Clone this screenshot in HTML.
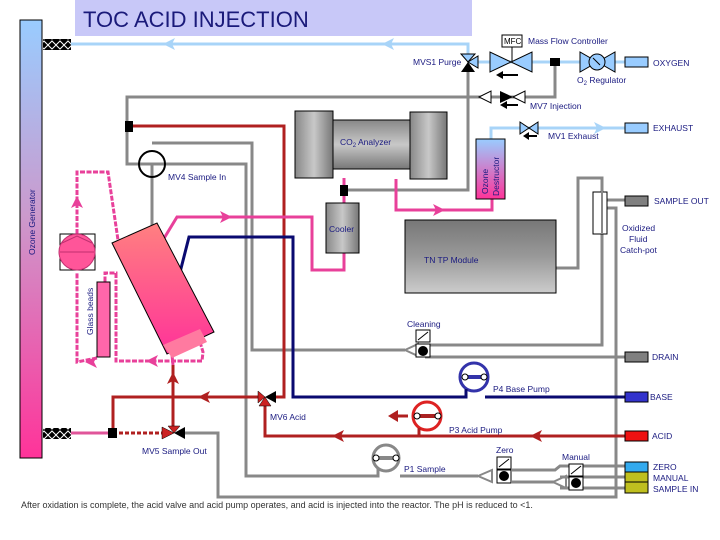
<!DOCTYPE html>
<html><head><meta charset="utf-8"><style>
html,body{margin:0;padding:0;background:#fff;}
svg{display:block;}
text{font-family:"Liberation Sans",sans-serif;}
.t{font-size:8.5px;fill:#1a1a80;}
</style></head><body>
<svg width="720" height="540" viewBox="0 0 720 540" xmlns="http://www.w3.org/2000/svg">
<defs>
<linearGradient id="oz" x1="0" y1="0" x2="0" y2="1"><stop offset="0" stop-color="#99ccff"/><stop offset="0.45" stop-color="#cc99cc"/><stop offset="1" stop-color="#ff3399"/></linearGradient>
<linearGradient id="od" x1="0" y1="0" x2="0" y2="1"><stop offset="0" stop-color="#99ccff"/><stop offset="1" stop-color="#ff3399"/></linearGradient>
<linearGradient id="gv" x1="0" y1="0" x2="0" y2="1"><stop offset="0" stop-color="#888"/><stop offset="0.5" stop-color="#c8c8c8"/><stop offset="1" stop-color="#777"/></linearGradient>
<linearGradient id="gh" x1="0" y1="0" x2="1" y2="0"><stop offset="0" stop-color="#888"/><stop offset="0.5" stop-color="#c8c8c8"/><stop offset="1" stop-color="#777"/></linearGradient>
<linearGradient id="tn" x1="0" y1="0" x2="0" y2="1"><stop offset="0" stop-color="#777"/><stop offset="0.5" stop-color="#999"/><stop offset="1" stop-color="#ccc"/></linearGradient>
<linearGradient id="re" x1="0" y1="0" x2="0" y2="1"><stop offset="0" stop-color="#ff8080"/><stop offset="1" stop-color="#ff3399"/></linearGradient>
<pattern id="hx" width="8" height="10" patternUnits="userSpaceOnUse"><rect width="8" height="10" fill="#000"/><path d="M0 5L4 1L8 5L4 9Z" fill="none" stroke="#fff" stroke-width="1"/></pattern>
</defs>

<!-- title -->
<rect x="75" y="0" width="397" height="36" fill="#c8c8f8"/>
<text x="83" y="27" font-size="22" fill="#1a1a7a">TOC ACID INJECTION</text>

<!-- ozone generator -->
<rect x="20" y="20" width="22" height="438" fill="url(#oz)" stroke="#000"/>
<text transform="translate(35,255) rotate(-90)" class="t" font-size="8">Ozone Generator</text>
<rect x="43" y="39" width="28" height="11" fill="url(#hx)"/>
<rect x="43" y="428" width="28" height="11" fill="url(#hx)"/>

<!-- light blue lines -->
<g stroke="#a8d4f8" stroke-width="3" fill="none">
<polyline points="71,44 468,44 468,55"/>
<line x1="475" y1="62" x2="625" y2="62"/>
<polyline points="491,140 491,128 625,128"/>
</g>
<path d="M163,44 L175,38 L172,44 L175,50Z" fill="#a8d4f8"/>
<path d="M382,44 L394,38 L391,44 L394,50Z" fill="#a8d4f8"/>
<path d="M606,128 L594,122 L597,128 L594,134Z" fill="#a8d4f8"/>

<!-- gray lines -->
<g stroke="#888" stroke-width="3" fill="none">
<polyline points="555,62 555,97 127,97 127,164 152,164"/>
<polyline points="468,70 468,190 347,190"/>
<polyline points="152,143 252,143 252,350 405,350"/>
<polyline points="152,164 246,164 246,476 372,476"/>
<line x1="152" y1="164" x2="152" y2="230"/>
<polyline points="556,268 578,268 578,178 602,178 602,234"/>
<polyline points="602,234 602,345 425,345"/>
<line x1="606" y1="200" x2="625" y2="200"/>
<polyline points="606,208 616,208 616,497 218,497 218,433 182,433"/>
<polyline points="425,357 625,357"/>
<polyline points="400,476 478,476"/>
<polyline points="512,470 555,470 560,466 625,466"/>
<polyline points="512,482 555,482"/>
<polyline points="560,477 625,477"/>
<polyline points="560,488 625,488"/>
</g>
<path d="M405,350 L418,344 L418,356Z" fill="none" stroke="#888" stroke-width="2"/>
<path d="M478,476 L492,470 L492,482Z" fill="none" stroke="#888" stroke-width="2"/>
<path d="M553,482 L566,476 L566,488Z" fill="none" stroke="#888" stroke-width="2"/>

<!-- dark red line -->
<g stroke="#b02020" stroke-width="3" fill="none">
<polyline points="130,126 284,126 284,397 272,397"/>
<polyline points="258,397 113,397 113,433"/>
<polyline points="625,436 265,436 265,404"/>
<line x1="173" y1="365" x2="173" y2="426"/>
<line x1="113" y1="433" x2="168" y2="433" stroke-dasharray="4,2"/>
</g>
<path d="M198,397 L210,391 L207,397 L210,403Z" fill="#b02020"/>
<path d="M332,436 L344,430 L341,436 L344,442Z" fill="#b02020"/>
<path d="M530,436 L542,430 L539,436 L542,442Z" fill="#b02020"/>
<path d="M173,372 L167,384 L173,381 L179,384Z" fill="#b02020"/>
<path d="M388,416 L398,410 L398,422Z" fill="#b02020"/><line x1="396" y1="416" x2="408" y2="416" stroke="#b02020" stroke-width="3"/>
<line x1="71" y1="433" x2="108" y2="433" stroke="#e0559a" stroke-width="3"/>
<rect x="108" y="428" width="9" height="10" fill="#000"/>

<!-- navy -->
<polyline points="175,292 189,237 293,237 293,397 463,397" stroke="#0a0a70" stroke-width="3" fill="none"/>
<line x1="485" y1="397" x2="625" y2="397" stroke="#0a0a70" stroke-width="3"/>

<!-- pink lines -->
<g stroke="#e8409a" stroke-width="3" fill="none">
<polyline points="344,178 344,203"/>
<polyline points="344,253 344,270 312,270 312,217 177,217 163,240"/>
<polyline points="396,179 396,210 492,210 492,199"/>
</g>
<path d="M232,217 L220,211 L223,217 L220,223Z" fill="#e8409a"/>
<path d="M445,210 L433,204 L436,210 L433,216Z" fill="#e8409a"/>
<g stroke="#e8409a" stroke-width="3" fill="none" stroke-dasharray="5,1.5">
<polyline points="77,234 77,172 108,172 118,240"/>
<polyline points="172,355 173,365"/>
<polyline points="200,342 203,352 202,361 116,361 116,273 105,273 105,282"/>
<polyline points="97,358 77,362 77,273"/>
</g>
<path d="M77,196 L71,208 L77,205 L83,208Z" fill="#e8409a"/>
<path d="M146,361 L158,355 L155,361 L158,367Z" fill="#e8409a"/>
<path d="M85,362 L97,356 L94,362 L97,368Z" fill="#e8409a"/>

<!-- black connectors -->
<rect x="125" y="121" width="8" height="11" fill="#000"/>
<rect x="340" y="185" width="8" height="11" fill="#000"/>
<rect x="550" y="58" width="10" height="8" fill="#000"/>

<!-- CO2 analyzer -->
<rect x="295" y="111" width="38" height="67" fill="url(#gh)" stroke="#000"/>
<rect x="333" y="120" width="77" height="49" fill="url(#gv)" stroke="#000"/>
<rect x="410" y="112" width="37" height="67" fill="url(#gh)" stroke="#000"/>
<text x="340" y="145" class="t">CO<tspan font-size="6" dy="2">2</tspan><tspan dy="-2"> Analyzer</tspan></text>

<!-- cooler -->
<rect x="326" y="203" width="33" height="50" fill="url(#gh)" stroke="#000"/>
<text x="329" y="232" class="t" font-size="8">Cooler</text>

<!-- ozone destructor -->
<rect x="476" y="139" width="29" height="60" fill="url(#od)" stroke="#000"/>
<text transform="translate(488,194) rotate(-90)" class="t" font-size="8">Ozone</text>
<text transform="translate(499,196) rotate(-90)" class="t" font-size="8">Destructor</text>

<!-- TN TP module -->
<rect x="405" y="220" width="151" height="73" fill="url(#tn)" stroke="#000"/>
<text x="424" y="263" class="t">TN TP Module</text>

<!-- catch pot -->
<rect x="593" y="192" width="14" height="42" fill="#fff" stroke="#000"/>
<line x1="602" y1="180" x2="602" y2="234" stroke="#888" stroke-width="2"/>

<!-- MV4 -->
<circle cx="152" cy="164" r="13" fill="none" stroke="#000" stroke-width="2"/>
<text x="168" y="180" class="t">MV4 Sample In</text>

<!-- reactor -->
<polygon points="112,243 157,223 214,332 167,354" fill="url(#re)" stroke="#000"/>
<polygon points="163,345 200,329 207,342 172,358" fill="#ff7aa0"/>

<!-- ozone pump -->
<rect x="60" y="234" width="35" height="36" fill="#fff" stroke="#000"/>
<circle cx="77" cy="252" r="18" fill="#ff5599" stroke="#c03070"/>
<path d="M60,252 L94,252 M62,243 L77,236 L92,243" stroke="#c03070" fill="none"/>

<!-- glass beads -->
<rect x="97" y="282" width="13" height="75" fill="#ff66aa" stroke="#000"/>
<text transform="translate(93,335) rotate(-90)" class="t" font-size="8">Glass beads</text>

<!-- MFC / MVS1 -->
<rect x="502" y="35" width="20" height="12" fill="#fff" stroke="#000"/>
<text x="504" y="44" font-size="8" fill="#000">MFC</text>
<line x1="512" y1="47" x2="512" y2="62" stroke="#000"/>
<text x="528" y="44" class="t">Mass Flow Controller</text>
<path d="M490,52 L490,72 L532,52 L532,72Z" fill="#99ccff" stroke="#000"/>
<path d="M502,75 L518,75" stroke="#000" stroke-width="2"/><path d="M496,75 L503,71 L503,79Z"/>
<path d="M461,54 L475,54 L468,62Z" fill="#99ccff" stroke="#000"/>
<path d="M468,62 L478,56 L478,68Z" fill="#99ccff" stroke="#000"/>
<path d="M468,62 L461,72 L475,72Z" fill="#000"/>
<text x="413" y="65" class="t">MVS1 Purge</text>
<!-- O2 regulator -->
<path d="M580,52 L580,72 L615,52 L615,72Z" fill="#99ccff" stroke="#000"/>
<circle cx="597" cy="62" r="8" fill="#99ccff" stroke="#000"/>
<line x1="593" y1="58" x2="600" y2="65" stroke="#000"/>
<rect x="625" y="57" width="23" height="10" fill="#99ccff" stroke="#000"/>
<text x="653" y="66" class="t">OXYGEN</text>
<text x="577" y="83" class="t">O<tspan font-size="6" dy="2">2</tspan><tspan dy="-2"> Regulator</tspan></text>
<!-- MV7 -->
<path d="M479,97 L491,91 L491,103Z" fill="#fff" stroke="#000"/>
<path d="M500,91 L500,103 L513,97Z" fill="#000"/>
<path d="M513,97 L525,91 L525,103Z" fill="#fff" stroke="#000"/>
<path d="M506,105 L518,105" stroke="#000" stroke-width="2"/><path d="M500,105 L507,101 L507,109Z"/>
<text x="530" y="109" class="t">MV7 Injection</text>
<!-- MV1 -->
<path d="M520,122 L520,134 L538,122 L538,134Z" fill="#99ccff" stroke="#000"/>
<path d="M527,136 L537,136" stroke="#000" stroke-width="2"/><path d="M523,136 L529,132 L529,140Z"/>
<rect x="625" y="123" width="23" height="10" fill="#99ccff" stroke="#000"/>
<text x="653" y="131" class="t">EXHAUST</text>
<text x="548" y="139" class="t">MV1 Exhaust</text>

<rect x="625" y="196" width="23" height="10" fill="#808080" stroke="#000"/>
<text x="654" y="204" class="t">SAMPLE OUT</text>
<text x="622" y="231" class="t">Oxidized</text>
<text x="629" y="242" class="t">Fluid</text>
<text x="620" y="253" class="t">Catch-pot</text>

<!-- cleaning valve -->
<rect x="416" y="330" width="14" height="12" fill="#fff" stroke="#000"/><line x1="418" y1="340" x2="428" y2="332" stroke="#000"/>
<rect x="416" y="344" width="14" height="13" fill="#fff" stroke="#000"/><circle cx="423" cy="351" r="5"/>
<text x="407" y="327" class="t">Cleaning</text>
<rect x="625" y="352" width="23" height="10" fill="#808080" stroke="#000"/>
<text x="652" y="360" class="t">DRAIN</text>

<!-- P4 -->
<circle cx="474" cy="377" r="14" fill="#fff" stroke="#3333aa" stroke-width="3"/>
<line x1="465" y1="377" x2="484" y2="377" stroke="#3333aa" stroke-width="4"/>
<circle cx="465" cy="377" r="3" fill="#fff" stroke="#000"/><circle cx="484" cy="377" r="3" fill="#fff" stroke="#000"/>
<polyline points="463,397 466,397 466,389 M482,389 482,397 485,397" stroke="#0a0a70" stroke-width="3" fill="none"/>
<text x="493" y="392" class="t">P4 Base Pump</text>
<rect x="625" y="392" width="23" height="10" fill="#3333cc" stroke="#000"/>
<text x="650" y="400" class="t">BASE</text>

<!-- P3 -->
<circle cx="427" cy="416" r="14" fill="#fff" stroke="#dd2222" stroke-width="3"/>
<line x1="417" y1="416" x2="438" y2="416" stroke="#aa2222" stroke-width="4"/>
<circle cx="417" cy="416" r="3" fill="#fff" stroke="#000"/><circle cx="438" cy="416" r="3" fill="#fff" stroke="#000"/>
<polyline points="419,436 419,428 M435,428 435,436" stroke="#b02020" stroke-width="3" fill="none"/>
<text x="449" y="433" class="t">P3 Acid Pump</text>
<rect x="625" y="431" width="23" height="10" fill="#ee1111" stroke="#000"/>
<text x="652" y="439" class="t">ACID</text>

<!-- MV6 -->
<path d="M258,391 L258,403 L265,397Z" fill="#cc2222" stroke="#000" stroke-width="0.5"/>
<path d="M265,397 L276,391 L276,403Z" fill="#000"/>
<path d="M265,397 L259,406 L271,406Z" fill="#cc2222" stroke="#000" stroke-width="0.5"/>
<text x="270" y="420" class="t">MV6 Acid</text>
<!-- MV5 -->
<path d="M168,426 L180,426 L174,433Z" fill="#cc2222" stroke="#000" stroke-width="0.5"/>
<path d="M162,427 L162,439 L174,433Z" fill="#cc2222" stroke="#000" stroke-width="0.5"/>
<path d="M174,433 L185,427 L185,439Z" fill="#000"/>
<text x="142" y="454" class="t">MV5 Sample Out</text>

<!-- P1 -->
<circle cx="386" cy="458" r="13" fill="#fff" stroke="#888" stroke-width="3"/>
<line x1="376" y1="458" x2="396" y2="458" stroke="#888" stroke-width="4"/>
<circle cx="376" cy="458" r="3" fill="#fff" stroke="#000"/><circle cx="396" cy="458" r="3" fill="#fff" stroke="#000"/>
<polyline points="372,476 378,476 378,469 M394,469 394,476 400,476" stroke="#888" stroke-width="3" fill="none"/>
<text x="404" y="472" class="t">P1 Sample</text>

<!-- zero/manual valves -->
<rect x="497" y="457" width="14" height="12" fill="#fff" stroke="#000"/><line x1="499" y1="467" x2="509" y2="459" stroke="#000"/>
<rect x="497" y="470" width="14" height="13" fill="#fff" stroke="#000"/><circle cx="504" cy="476" r="5"/>
<text x="496" y="453" class="t" font-size="8">Zero</text>
<rect x="569" y="464" width="14" height="12" fill="#fff" stroke="#000"/><line x1="571" y1="474" x2="581" y2="466" stroke="#000"/>
<rect x="569" y="477" width="14" height="13" fill="#fff" stroke="#000"/><circle cx="576" cy="483" r="5"/>
<text x="562" y="460" class="t" font-size="8">Manual</text>
<rect x="625" y="462" width="23" height="10" fill="#33aaee" stroke="#000"/>
<rect x="625" y="472" width="23" height="10" fill="#bfbf1f" stroke="#000"/>
<rect x="625" y="482" width="23" height="11" fill="#bfbf1f" stroke="#000"/>
<text x="653" y="470" class="t">ZERO</text>
<text x="653" y="481" class="t">MANUAL</text>
<text x="653" y="492" class="t">SAMPLE IN</text>

<text x="21" y="508" font-size="9" fill="#333">After oxidation is complete, the acid valve and acid pump operates, and acid is injected into the reactor. The pH is reduced to &lt;1.</text>
</svg>
</body></html>
